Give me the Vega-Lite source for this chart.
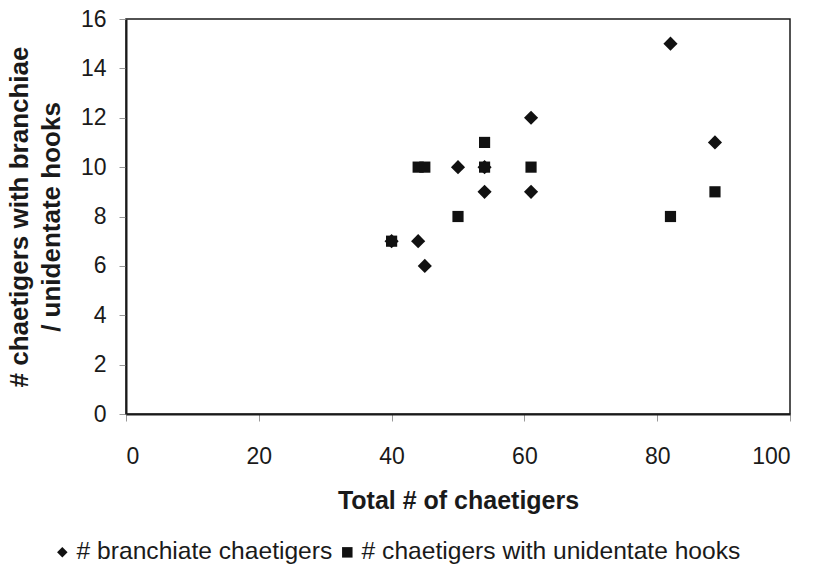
{
  "$schema": "https://vega.github.io/schema/vega-lite/v6.json",
  "autosize": {"type": "none"},
  "width": 664,
  "height": 395,
  "padding": {"left": 126, "top": 19, "right": 23, "bottom": 152},
  "background": "white",
  "config": {
    "font": "Liberation Sans",
    "view": {"stroke": "#1a1a1a", "strokeWidth": 1.5},
    "axis": {"grid": false, "labelFont": "Liberation Sans", "titleFont": "Liberation Sans"}
  },
  "data": {
    "values": [
      {"total": 40, "count": 7, "series": "# branchiate chaetigers"},
      {"total": 44, "count": 7, "series": "# branchiate chaetigers"},
      {"total": 45, "count": 6, "series": "# branchiate chaetigers"},
      {"total": 50, "count": 10, "series": "# branchiate chaetigers"},
      {"total": 54, "count": 10, "series": "# branchiate chaetigers"},
      {"total": 54, "count": 9, "series": "# branchiate chaetigers"},
      {"total": 61, "count": 12, "series": "# branchiate chaetigers"},
      {"total": 61, "count": 9, "series": "# branchiate chaetigers"},
      {"total": 82, "count": 15, "series": "# branchiate chaetigers"},
      {"total": 88.7, "count": 11, "series": "# branchiate chaetigers"},
      {"total": 40, "count": 7, "series": "# chaetigers with unidentate hooks"},
      {"total": 44, "count": 10, "series": "# chaetigers with unidentate hooks"},
      {"total": 45, "count": 10, "series": "# chaetigers with unidentate hooks"},
      {"total": 50, "count": 8, "series": "# chaetigers with unidentate hooks"},
      {"total": 54, "count": 11, "series": "# chaetigers with unidentate hooks"},
      {"total": 54, "count": 10, "series": "# chaetigers with unidentate hooks"},
      {"total": 61, "count": 10, "series": "# chaetigers with unidentate hooks"},
      {"total": 82, "count": 8, "series": "# chaetigers with unidentate hooks"},
      {"total": 88.7, "count": 9, "series": "# chaetigers with unidentate hooks"}
    ]
  },
  "encoding": {
    "x": {
      "field": "total", "type": "quantitative",
      "scale": {"domain": [0, 100], "nice": false},
      "axis": {
        "values": [0, 20, 40, 60, 80, 100],
        "title": "Total # of chaetigers",
        "titleFontSize": 25, "titleFontWeight": "bold", "titleColor": "#1a1a1a",
        "titlePadding": 20,
        "labelFontSize": 23, "labelColor": "#1a1a1a", "labelPadding": 24,
        "tickColor": "#999999", "tickSize": 7, "tickWidth": 1,
        "domainColor": "#1a1a1a", "domainWidth": 2
      }
    },
    "y": {
      "field": "count", "type": "quantitative",
      "scale": {"domain": [0, 16], "nice": false},
      "axis": {
        "values": [0, 2, 4, 6, 8, 10, 12, 14, 16],
        "title": ["# chaetigers with branchiae", "/ unidentate hooks"],
        "titleFontSize": 26, "titleFontWeight": "bold", "titleColor": "#1a1a1a",
        "titleLineHeight": 32, "titlePadding": 16,
        "labelFontSize": 23, "labelColor": "#1a1a1a", "labelPadding": 13,
        "tickColor": "#999999", "tickSize": 7, "tickWidth": 1,
        "domainColor": "#1a1a1a", "domainWidth": 2
      }
    },
    "shape": {
      "field": "series", "type": "nominal",
      "scale": {"domain": ["# branchiate chaetigers", "# chaetigers with unidentate hooks"], "range": ["diamond", "square"]},
      "legend": {
        "title": null, "orient": "none", "direction": "horizontal",
        "legendX": -76, "legendY": 521,
        "labelFontSize": 24.6, "labelColor": "#1a1a1a", "labelFont": "Liberation Sans", "labelLimit": 0,
        "symbolFillColor": "#111111", "symbolStrokeColor": "#111111", "symbolStrokeWidth": 0,
        "symbolSize": 110, "labelOffset": 2, "columnPadding": 2
      }
    }
  },
  "layer": [
    {
      "transform": [{"filter": "datum.series == '# branchiate chaetigers'"}],
      "mark": {"type": "point", "filled": true, "opacity": 1, "color": "#111111", "size": 200}
    },
    {
      "transform": [{"filter": "datum.series == '# chaetigers with unidentate hooks'"}],
      "mark": {"type": "point", "filled": true, "opacity": 1, "color": "#111111", "size": 125}
    }
  ]
}
